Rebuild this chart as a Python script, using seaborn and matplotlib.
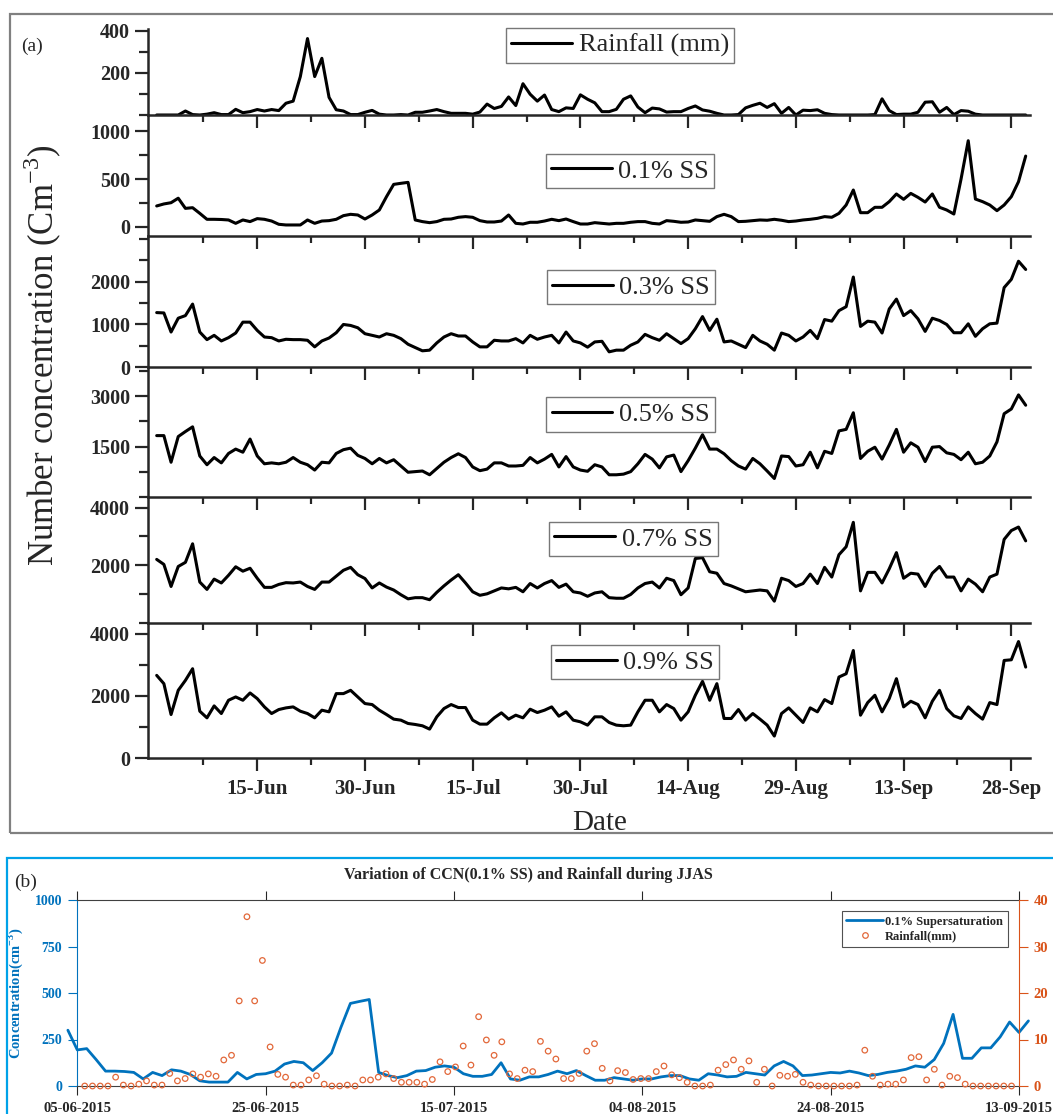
import numpy as np
import pandas as pd
import seaborn as sns
import matplotlib.pyplot as plt
import matplotlib.dates as mdates
from matplotlib.lines import Line2D
from matplotlib.patches import Rectangle

sns.set_style("ticks")
plt.rcParams['font.family'] = ['Liberation Serif', 'DejaVu Serif']
plt.rcParams['mathtext.fontset'] = 'custom'
plt.rcParams['mathtext.rm'] = 'Liberation Serif'
plt.rcParams['mathtext.bf'] = 'Liberation Serif:bold'

# --- dados diarios, 01-Jun a 30-Sep 2015 ---
dates = pd.date_range('2015-06-01', '2015-09-30', freq='D')

rain_mm = [0, 0, 0, 0, 1.9, 0.2, 0, 0.4, 1.1, 0.2,
           0.2, 2.7, 1.1, 1.6, 2.6, 1.9, 2.6, 2.1, 5.6, 6.6,
           18.3, 36.4, 18.3, 27.0, 8.4, 2.5, 1.9, 0.2, 0.2, 1.3,
           2.2, 0.4, 0, 0, 0.2, 0, 1.3, 1.3, 1.9, 2.6,
           1.6, 0.8, 0.8, 0.8, 0.4, 1.4, 5.2, 3.1, 4.1, 8.6,
           4.5, 14.9, 9.9, 6.6, 9.5, 2.6, 1.6, 3.4, 3.1, 9.6,
           7.5, 5.8, 1.6, 1.6, 2.7, 7.5, 9.1, 3.8, 1.1, 3.3,
           2.9, 1.4, 1.6, 1.6, 3.1, 4.3, 2.4, 1.8, 0.8, 0,
           0, 0.2, 3.4, 4.6, 5.6, 3.6, 5.4, 0.8, 3.6, 0,
           2.3, 2.1, 2.5, 0.8, 0.2, 0, 0, 0, 0, 0,
           0.2, 7.7, 2.1, 0.2, 0.4, 0.4, 1.3, 6.1, 6.3, 1.3,
           3.6, 0.2, 2.1, 1.8, 0.4, 0, 0, 0, 0, 0,
           0, 0]

ss01 = [219, 240, 253, 300, 194, 201, 142, 80, 80, 78,
        73, 38, 73, 56, 87, 80, 62, 28, 21, 21,
        21, 73, 38, 62, 66, 80, 118, 132, 125, 83,
        125, 177, 316, 444, 455, 465, 73, 56, 45, 56,
        80, 83, 101, 108, 101, 66, 52, 52, 62, 125,
        38, 31, 49, 49, 62, 80, 66, 83, 56, 31,
        31, 45, 38, 31, 38, 38, 49, 56, 56, 38,
        31, 66, 59, 49, 52, 73, 66, 59, 108, 132,
        108, 56, 59, 66, 73, 70, 80, 70, 56, 62,
        73, 80, 90, 108, 101, 142, 229, 385, 149, 149,
        205, 205, 264, 344, 288, 350, 309, 260, 344, 205,
        177, 135, 500, 899, 291, 264, 229, 170, 229, 316,
        472, 739]

ss03 = [1277, 1269, 823, 1146, 1207, 1476, 823, 646, 746, 615,
        692, 800, 1054, 1054, 861, 707, 692, 615, 654, 646,
        646, 631, 477, 615, 684, 807, 1000, 977, 923, 784,
        746, 707, 784, 746, 669, 538, 461, 385, 400, 569,
        707, 784, 731, 731, 592, 477, 477, 631, 615, 615,
        669, 569, 746, 654, 707, 746, 569, 823, 615, 569,
        470, 592, 607, 361, 400, 400, 515, 592, 769, 692,
        631, 784, 669, 554, 669, 900, 1184, 861, 1123, 592,
        615, 538, 461, 746, 615, 538, 400, 800, 746, 615,
        707, 861, 669, 1115, 1077, 1323, 1415, 2107, 954, 1077,
        1054, 800, 1361, 1592, 1207, 1323, 1131, 838, 1146, 1092,
        1000, 807, 807, 1015, 723, 900, 1015, 1031, 1861, 2053,
        2476, 2284]

ss05 = [1826, 1826, 1034, 1798, 1947, 2087, 1220, 960, 1174, 1015,
        1295, 1425, 1332, 1724, 1220, 988, 1015, 988, 1034, 1174,
        1034, 960, 801, 1034, 1015, 1295, 1407, 1453, 1239, 1146,
        988, 1146, 1015, 1109, 922, 736, 755, 773, 661, 848,
        1034, 1174, 1286, 1174, 894, 783, 829, 1015, 1015, 922,
        922, 941, 1174, 1015, 1127, 1267, 894, 1202, 894, 801,
        765, 960, 894, 661, 661, 680, 755, 988, 1267, 1127,
        866, 1193, 1248, 755, 1081, 1453, 1854, 1425, 1425, 1286,
        1081, 922, 829, 1146, 988, 773, 550, 1220, 1202, 922,
        960, 1332, 866, 1360, 1295, 1966, 2012, 2506, 1146, 1360,
        1481, 1127, 1547, 2012, 1332, 1612, 1481, 1053, 1481, 1500,
        1314, 1267, 1109, 1332, 988, 1034, 1220, 1640, 2478, 2618,
        3037, 2730]

ss07 = [2204, 2031, 1266, 1959, 2102, 2745, 1419, 1164, 1521, 1388,
        1653, 1949, 1796, 1898, 1551, 1235, 1235, 1337, 1398, 1388,
        1419, 1266, 1164, 1419, 1419, 1623, 1827, 1929, 1674, 1541,
        1215, 1388, 1245, 1143, 980, 837, 878, 878, 807, 1062,
        1286, 1490, 1674, 1388, 1082, 960, 1011, 1113, 1215, 1184,
        1235, 1082, 1368, 1215, 1368, 1470, 1235, 1347, 1082, 1041,
        925, 1041, 1082, 878, 858, 858, 990, 1215, 1368, 1419,
        1215, 1551, 1470, 980, 1215, 2235, 2265, 1776, 1725, 1368,
        1286, 1184, 1082, 1113, 1143, 1113, 756, 1551, 1470, 1266,
        1368, 1694, 1368, 1929, 1592, 2367, 2643, 3489, 1113, 1755,
        1755, 1388, 1878, 2439, 1551, 1725, 1694, 1266, 1725, 1959,
        1592, 1592, 1113, 1521, 1347, 1082, 1592, 1694, 2898, 3204,
        3326, 2847]

ss09 = [2660, 2394, 1404, 2181, 2500, 2873, 1511, 1298, 1681, 1436,
        1862, 1968, 1862, 2096, 1915, 1649, 1436, 1564, 1617, 1649,
        1511, 1436, 1298, 1543, 1490, 2075, 2075, 2181, 1968, 1756,
        1724, 1543, 1404, 1256, 1224, 1117, 1085, 1043, 936, 1330,
        1596, 1724, 1628, 1628, 1224, 1096, 1096, 1298, 1458, 1256,
        1383, 1298, 1575, 1468, 1543, 1649, 1351, 1490, 1224, 1170,
        1064, 1330, 1330, 1149, 1064, 1043, 1064, 1490, 1862, 1862,
        1490, 1724, 1596, 1224, 1490, 2022, 2468, 1862, 2394, 1277,
        1277, 1564, 1224, 1436, 1256, 1064, 713, 1436, 1617, 1383,
        1149, 1617, 1490, 1883, 1756, 2607, 2713, 3458, 1383, 1787,
        2022, 1490, 1915, 2554, 1649, 1830, 1724, 1298, 1830, 2181,
        1596, 1362, 1277, 1649, 1436, 1256, 1787, 1724, 3139, 3160,
        3745, 2926]

series_labels = ['Rainfall (mm)', '0.1% SS', '0.3% SS', '0.5% SS', '0.7% SS', '0.9% SS']
major_dates = pd.date_range('2015-06-15', periods=8, freq='15D')
b_dates = pd.date_range('2015-06-05', periods=6, freq='20D')

# --- layout em pixels ---
W, H = 1053, 1114
def fx(px): return px / W
def fy(py): return 1 - py / H

fig = plt.figure(figsize=(W / 100, H / 100), dpi=100)

rain_a = [r * 10 for r in rain_mm]
panel_data = [rain_a, ss01, ss03, ss05, ss07, ss09]
# (topo px, base px, ylim, ticks maiores, passo menor, centro da legenda px)
layout = [
    (28.9, 115, (0, 410), [200, 400], 100, (620, 45.5)),
    (115, 236, (-94, 1167), [0, 500, 1000], 250, (630, 171)),
    (236, 367.3, (0, 3065), [0, 1000, 2000], 500, (631, 287)),
    (367.3, 497, (235, 3858), [1500, 3000], 750, (630.5, 414.5)),
    (497, 623, (518, 4367), [2000, 4000], 1000, (633.3, 538.8)),
    (623, 758.3, (0, 4340), [0, 2000, 4000], 1000, (635, 662)),
]

x0 = dates[0] - pd.Timedelta(days=1.21)
x1 = dates[0] + pd.Timedelta(days=121.6)
maj = mdates.date2num(major_dates)
mino = maj - 7.5

for i, (vals, lab, lay) in enumerate(zip(panel_data, series_labels, layout)):
    top, bot, ylim, yt, ystep, lc = lay
    ax = fig.add_axes([fx(148), fy(bot), fx(1030) - fx(148), (bot - top) / H])
    ax.set_facecolor('none')
    sns.lineplot(x=dates, y=vals, ax=ax, color='black', lw=2.2)
    ax.set_xlim(x0, x1)
    ax.set_ylim(*ylim)
    ax.spines[['top', 'right']].set_visible(False)
    for s in ['left', 'bottom']:
        ax.spines[s].set_linewidth(1.8)
    ax.set_yticks(yt)
    ax.set_yticklabels([str(t) for t in yt], fontweight='bold', fontsize=14.5)
    ax.set_yticks(np.arange(0, ylim[1], ystep), minor=True)
    ax.set_xticks(maj)
    ax.set_xticks(mino, minor=True)
    if i == len(layout) - 1:
        ax.set_xticklabels([d.strftime('%d-%b') for d in major_dates],
                           fontweight='bold', fontsize=15)
    else:
        ax.set_xticklabels([])
    ax.tick_params(axis='y', which='major', direction='out', length=9.4, width=1.6, pad=3.5)
    ax.tick_params(axis='y', which='minor', direction='out', length=6.5, width=1.6)
    ax.tick_params(axis='x', which='major', direction='out', length=9, width=1.6, pad=6)
    ax.tick_params(axis='x', which='minor', direction='out', length=4.8, width=1.6)
    ax.set_xlabel('')
    ax.set_ylabel('')
    leg = ax.legend([Line2D([], [], color='black', lw=2.2)], [lab], loc='center',
                    bbox_to_anchor=(fx(lc[0]), fy(lc[1])), bbox_transform=fig.transFigure,
                    fontsize=19, frameon=True, fancybox=False, edgecolor='#555555',
                    handlelength=2.3, handletextpad=0.25, borderpad=0.2,
                    borderaxespad=0)
    leg.get_frame().set_linewidth(1.0)

fig.text(fx(43), fy(355), 'Number concentration (Cm$^{-3}$)', rotation=90,
         fontsize=25, ha='center', va='center')
fig.text(fx(600), fy(830), 'Date', fontsize=21, ha='center', va='baseline')
fig.text(fx(32.5), fy(46.5), '(a)', fontsize=14, ha='center', va='center')
fig.add_artist(Rectangle((fx(10), fy(833)), fx(1080) - fx(10), (833 - 14) / H,
                         transform=fig.transFigure, fill=False,
                         edgecolor='#808080', lw=1.6))

# --- painel (b) ---
BLUE = '#0072BD'
ORANGE = '#D95319'
axb = fig.add_axes([fx(77.3), fy(1086), fx(1019) - fx(77.3), 186 / H])
axb.set_facecolor('none')
sns.lineplot(x=dates[3:106], y=ss01[3:106], ax=axb, color=BLUE, lw=2, clip_on=False)
axb.set_xlim(b_dates[0], b_dates[-1])
axb.set_ylim(0, 1000)
axr = axb.twinx()
rain_x = pd.date_range('2015-06-05 19:00', '2015-09-12 05:00', periods=121)
sns.scatterplot(x=rain_x, y=rain_mm[:121], ax=axr, marker='o', s=16)
pc = axr.collections[0]
pc.set_facecolor('none')
pc.set_edgecolor('#E2683A')
pc.set_linewidth(0.9)
pc.set_clip_on(False)
axr.set_ylim(0, 40)
axb.set_xlim(b_dates[0], b_dates[-1])

axb.set_xticks(mdates.date2num(b_dates))
axb.set_xticklabels([d.strftime('%d-%m-%Y') for d in b_dates],
                    fontweight='bold', fontsize=10.5, color='#262626')
axb.tick_params(axis='x', top=True, direction='out', length=6.5, width=0.8,
                color='#262626', pad=5)
yb = [0, 250, 500, 750, 1000]
axb.set_yticks(yb)
axb.set_yticklabels([str(t) for t in yb], fontweight='bold', fontsize=10, color=BLUE)
axb.tick_params(axis='y', direction='out', length=6.5, width=0.8, color=BLUE, pad=4.5)
yr = [0, 10, 20, 30, 40]
axr.set_yticks(yr)
axr.set_yticklabels([str(t) for t in yr], fontweight='bold', fontsize=10.5, color=ORANGE)
axr.tick_params(axis='y', direction='out', length=6.5, width=0.8, color=ORANGE, pad=4)
axb.spines['left'].set_color(BLUE)
axb.spines['right'].set_visible(False)
for s in ['top', 'bottom']:
    axb.spines[s].set_color('#404040')
    axb.spines[s].set_linewidth(0.8)
axb.spines['left'].set_linewidth(0.8)
for s in ['left', 'top', 'bottom']:
    axr.spines[s].set_visible(False)
axr.spines['right'].set_color(ORANGE)
axr.spines['right'].set_linewidth(0.8)
axb.set_xlabel('')
axr.set_ylabel('')
axb.set_ylabel(r'Concentration(cm$^{\mathbf{-3}}$)', fontweight='bold',
               fontsize=10.5, color=BLUE)
axb.yaxis.set_label_coords((25 - 77.3) / (1019 - 77.3), 0.5)

hb = [Line2D([], [], color=BLUE, lw=2),
      Line2D([], [], color='#E2683A', marker='o', ls='', ms=4, mfc='none', mew=0.9)]
legb = axr.legend(hb, ['0.1% Supersaturation', 'Rainfall(mm)'], loc='center',
                  bbox_to_anchor=(fx(924.5), fy(929.2)), bbox_transform=fig.transFigure,
                  prop={'weight': 'bold', 'size': 9}, frameon=True, fancybox=False,
                  edgecolor='#262626', handlelength=3, handletextpad=0.15,
                  borderpad=0.35, labelspacing=0.25, borderaxespad=0)
legb.get_frame().set_linewidth(0.8)

fig.text(fx(528.4), fy(875), 'Variation of CCN(0.1% SS) and Rainfall during JJAS',
         ha='center', va='center', fontsize=11.5, fontweight='bold')
fig.text(fx(26), fy(882), '(b)', fontsize=14, ha='center', va='center')
fig.add_artist(Rectangle((fx(7.3), fy(1140)), fx(1080) - fx(7.3), (1140 - 858.3) / H,
                         transform=fig.transFigure, fill=False,
                         edgecolor='#00A2E8', lw=1.6))

fig.savefig('out.png', dpi=100)
